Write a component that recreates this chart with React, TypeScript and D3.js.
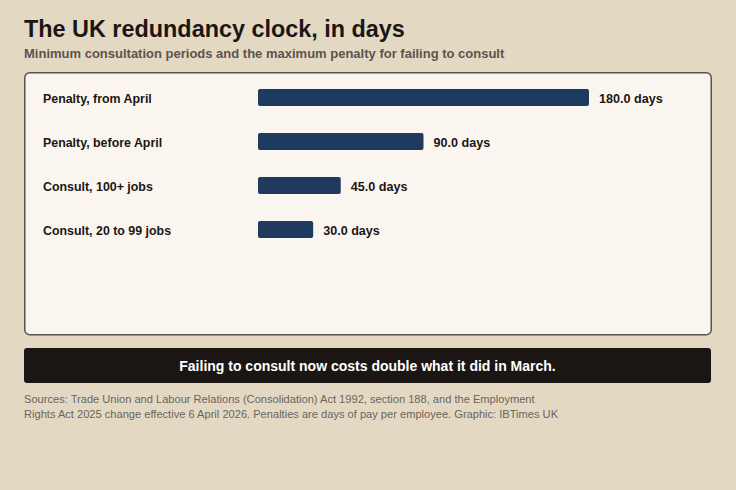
import React from "react";
import * as d3 from "d3";

const categories = ["Penalty, from April", "Penalty, before April", "Consult, 100+ jobs", "Consult, 20 to 99 jobs"];
const values = [180, 90, 45, 30];
const unit = "days";
const title = "The UK redundancy clock, in days";
const subtitle = "Minimum consultation periods and the maximum penalty for failing to consult";
const banner = "Failing to consult now costs double what it did in March.";
const sources = [
  "Sources: Trade Union and Labour Relations (Consolidation) Act 1992, section 188, and the Employment",
  "Rights Act 2025 change effective 6 April 2026. Penalties are days of pay per employee. Graphic: IBTimes UK",
];

const W = 736;
const H = 490;
const FONT = "'Liberation Sans', Arial, Helvetica, sans-serif";

export default function App() {
  const x = d3.scaleLinear().domain([0, d3.max(values) as number]).range([258, 589]);
  const y = d3.scaleBand<string>().domain(categories).range([75.5, 251.5]).paddingInner(0).paddingOuter(0);
  const barH = 17;
  return (
    <div style={{ position: "absolute", left: 0, top: 0, width: W, height: H }}>
      <svg width={W} height={H} style={{ display: "block" }}>
        <rect x={0} y={0} width={W} height={H} fill="#e3d9c3" />
        <text x={24} y={37} fontFamily={FONT} fontWeight={700} fontSize={23.4} fill="#1b1614">{title}</text>
        <text x={24} y={58} fontFamily={FONT} fontWeight={700} fontSize={13} fill="#5b544b">{subtitle}</text>
        <rect x={24.75} y={72.75} width={686.5} height={262} rx={5} fill="#faf6ef" stroke="#5a5449" strokeWidth={1.5} />
        {categories.map((c, i) => {
          const cy = (y(c) as number) + y.bandwidth() / 2;
          return (
            <g key={c}>
              <text x={43} y={cy + 1} dy="0.35em" fontFamily={FONT} fontWeight={700} fontSize={12.4} fill="#1b1614">{c}</text>
              <rect x={x(0)} y={cy - barH / 2} width={x(values[i]) - x(0)} height={barH} rx={2} fill="#1f3a5f" />
              <text x={x(values[i]) + 10} y={cy + 0.8} dy="0.35em" fontFamily={FONT} fontWeight={700} fontSize={12.6} fill="#1b1614">
                {`${d3.format(".1f")(values[i])} ${unit}`}
              </text>
            </g>
          );
        })}
        <rect x={24} y={348} width={687} height={35} rx={3} fill="#1b1614" />
        <text x={367.5} y={366} dy="0.35em" textAnchor="middle" fontFamily={FONT} fontWeight={700} fontSize={14} fill="#ffffff">{banner}</text>
        {sources.map((s, i) => (
          <text key={i} x={24} y={403 + i * 15} fontFamily={FONT} fontSize={11.1} fill="#6b645a">{s}</text>
        ))}
      </svg>
    </div>
  );
}
